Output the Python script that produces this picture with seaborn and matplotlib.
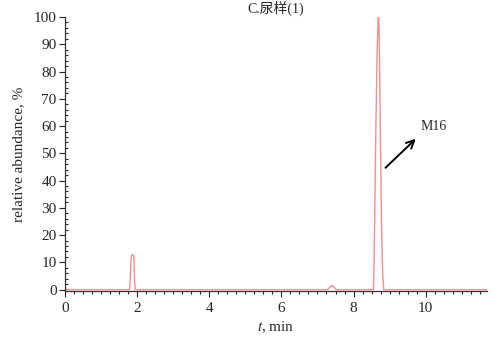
import matplotlib
matplotlib.use("Agg")
import matplotlib.pyplot as plt
import matplotlib.ticker as ticker
import seaborn as sns
import pandas as pd

# chromatogram trace (time in min, relative abundance in %)
time_min = [0.0, 1.79, 1.81, 1.83, 1.85, 1.88, 1.91, 1.93, 1.95,
            7.28, 7.35, 7.40, 7.45, 7.52,
            8.55, 8.57, 8.59, 8.62, 8.65, 8.68, 8.70, 8.72, 8.75, 8.78, 8.81, 8.84, 11.7]
abundance = [0.0, 0.0, 4.0, 11.0, 12.8, 12.8, 12.4, 3.0, 0.0,
             0.0, 1.0, 1.6, 1.0, 0.0,
             0.0, 10.0, 30.0, 60.0, 85.0, 100.0, 100.0, 85.0, 50.0, 20.0, 5.0, 0.0, 0.0]

title = "C.尿样(1)"
peak_label = "M16"
arrow_tail = (8.83, 44)
arrow_head = (9.78, 56)
label_pos = (9.85, 57.5)


def main():
	df = pd.DataFrame({"t": time_min, "abundance": abundance})

	sns.set_theme(style="ticks")
	plt.rcParams['font.family'] = ['Liberation Serif', 'Noto Sans CJK SC', 'DejaVu Serif']
	plt.rcParams['mathtext.fontset'] = 'stix'

	fig = plt.figure(figsize=(4.94, 3.38), dpi=100)
	ax = fig.add_axes([65 / 494, 1 - 291 / 338, 422 / 494, 274 / 338])

	sns.lineplot(data=df, x="t", y="abundance", ax=ax, color="#f29090", linewidth=1.0)

	ax.set_xlim(0, 11.7)
	ax.set_ylim(-0.5, 100)
	ax.xaxis.set_major_locator(ticker.MultipleLocator(2))
	ax.xaxis.set_minor_locator(ticker.MultipleLocator(0.25))
	ax.yaxis.set_major_locator(ticker.MultipleLocator(10))
	ax.yaxis.set_minor_locator(ticker.MultipleLocator(2))
	ax.tick_params(axis='x', which='major', direction='out', length=4, width=0.8, labelsize=11, pad=4)
	ax.tick_params(axis='x', which='minor', direction='out', length=2.5, width=0.8)
	ax.tick_params(axis='y', which='major', direction='out', length=4, width=0.8, labelsize=11, pad=2)
	ax.tick_params(axis='y', which='minor', direction='in', length=2.5, width=0.8)
	for side in ('top', 'right'):
		ax.spines[side].set_visible(False)
	for side in ('left', 'bottom'):
		ax.spines[side].set_color('#333333')
		ax.spines[side].set_linewidth(0.9)

	ax.set_xlabel("$t$, min", fontsize=11, labelpad=3)
	ax.set_ylabel("relative abundance, %", fontsize=11, labelpad=6)

	ax.annotate("", xy=arrow_head, xytext=arrow_tail,
				arrowprops=dict(arrowstyle="->", color="black", lw=1.4, mutation_scale=14))
	ax.text(label_pos[0], label_pos[1], peak_label, fontsize=10, va='bottom', ha='left')

	# the reference crops most of the title; keep it just inside the frame
	fig.text(276 / 494, 0.999, title, ha='center', va='top', fontsize=10)

	fig.savefig("out.png", dpi=100)


if __name__ == '__main__':
	main()
